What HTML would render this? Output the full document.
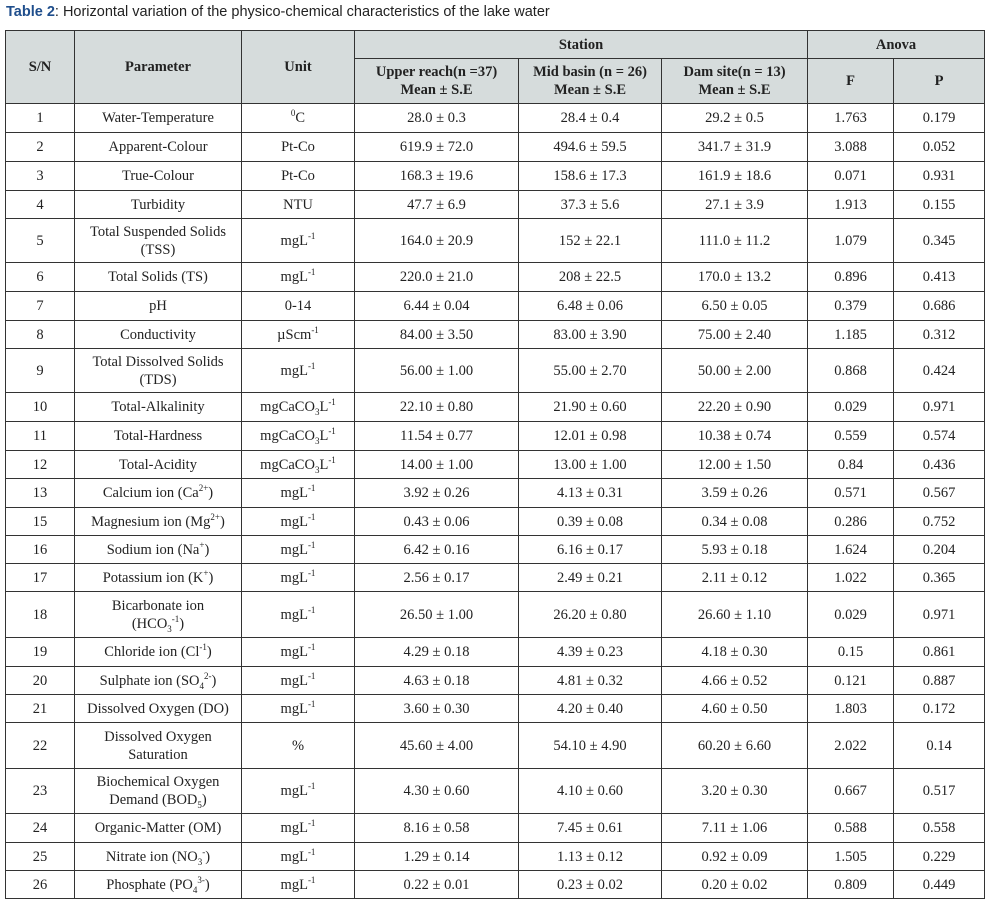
<!DOCTYPE html>
<html><head><meta charset="utf-8"><style>
body{margin:0;background:#fff;width:1000px;height:914px;overflow:hidden;position:relative}
.title{position:absolute;left:6px;top:4px;font-family:"Liberation Sans",sans-serif;font-size:14.5px;color:#222}
.title b{color:#1f4e8c}
table{position:absolute;left:5px;top:30px;border-collapse:collapse;table-layout:fixed;font-family:"Liberation Serif",serif;font-size:14.5px;color:#222}
td,th{border:1px solid #333;text-align:center;padding:0 3px;line-height:18px;overflow:hidden}
th{background:#d6dcdc;font-weight:bold}
sup,sub{font-size:9px;line-height:0}
</style></head><body>
<div class="title"><b>Table 2</b>: Horizontal variation of the physico-chemical characteristics of the lake water</div>
<table>
<colgroup><col style="width:69px"><col style="width:167px"><col style="width:113px"><col style="width:164px"><col style="width:143px"><col style="width:146px"><col style="width:86px"><col style="width:91px"></colgroup>
<tr style="height:28px"><th rowspan="2">S/N</th><th rowspan="2">Parameter</th><th rowspan="2">Unit</th><th colspan="3">Station</th><th colspan="2">Anova</th></tr>
<tr style="height:45px"><th>Upper reach(n =37)<br>Mean ± S.E</th><th>Mid basin (n = 26)<br>Mean ± S.E</th><th>Dam site(n = 13)<br>Mean ± S.E</th><th>F</th><th>P</th></tr>
<tr style="height:29px"><td>1</td><td>Water-Temperature</td><td><sup>0</sup>C</td><td>28.0 ± 0.3</td><td>28.4 ± 0.4</td><td>29.2 ± 0.5</td><td>1.763</td><td>0.179</td></tr>
<tr style="height:29px"><td>2</td><td>Apparent-Colour</td><td>Pt-Co</td><td>619.9 ± 72.0</td><td>494.6 ± 59.5</td><td>341.7 ± 31.9</td><td>3.088</td><td>0.052</td></tr>
<tr style="height:29px"><td>3</td><td>True-Colour</td><td>Pt-Co</td><td>168.3 ± 19.6</td><td>158.6 ± 17.3</td><td>161.9 ± 18.6</td><td>0.071</td><td>0.931</td></tr>
<tr style="height:28px"><td>4</td><td>Turbidity</td><td>NTU</td><td>47.7 ± 6.9</td><td>37.3 ± 5.6</td><td>27.1 ± 3.9</td><td>1.913</td><td>0.155</td></tr>
<tr style="height:44px"><td>5</td><td>Total Suspended Solids (TSS)</td><td>mgL<sup>-1</sup></td><td>164.0 ± 20.9</td><td>152 ± 22.1</td><td>111.0 ± 11.2</td><td>1.079</td><td>0.345</td></tr>
<tr style="height:29px"><td>6</td><td>Total Solids (TS)</td><td>mgL<sup>-1</sup></td><td>220.0 ± 21.0</td><td>208 ± 22.5</td><td>170.0 ± 13.2</td><td>0.896</td><td>0.413</td></tr>
<tr style="height:29px"><td>7</td><td>pH</td><td>0-14</td><td>6.44 ± 0.04</td><td>6.48 ± 0.06</td><td>6.50 ± 0.05</td><td>0.379</td><td>0.686</td></tr>
<tr style="height:28px"><td>8</td><td>Conductivity</td><td>µScm<sup>-1</sup></td><td>84.00 ± 3.50</td><td>83.00 ± 3.90</td><td>75.00 ± 2.40</td><td>1.185</td><td>0.312</td></tr>
<tr style="height:44px"><td>9</td><td>Total Dissolved Solids (TDS)</td><td>mgL<sup>-1</sup></td><td>56.00 ± 1.00</td><td>55.00 ± 2.70</td><td>50.00 ± 2.00</td><td>0.868</td><td>0.424</td></tr>
<tr style="height:29px"><td>10</td><td>Total-Alkalinity</td><td>mgCaCO<sub>3</sub>L<sup>-1</sup></td><td>22.10 ± 0.80</td><td>21.90 ± 0.60</td><td>22.20 ± 0.90</td><td>0.029</td><td>0.971</td></tr>
<tr style="height:29px"><td>11</td><td>Total-Hardness</td><td>mgCaCO<sub>3</sub>L<sup>-1</sup></td><td>11.54 ± 0.77</td><td>12.01 ± 0.98</td><td>10.38 ± 0.74</td><td>0.559</td><td>0.574</td></tr>
<tr style="height:28px"><td>12</td><td>Total-Acidity</td><td>mgCaCO<sub>3</sub>L<sup>-1</sup></td><td>14.00 ± 1.00</td><td>13.00 ± 1.00</td><td>12.00 ± 1.50</td><td>0.84</td><td>0.436</td></tr>
<tr style="height:29px"><td>13</td><td>Calcium ion (Ca<sup>2+</sup>)</td><td>mgL<sup>-1</sup></td><td>3.92 ± 0.26</td><td>4.13 ± 0.31</td><td>3.59 ± 0.26</td><td>0.571</td><td>0.567</td></tr>
<tr style="height:28px"><td>15</td><td>Magnesium ion (Mg<sup>2+</sup>)</td><td>mgL<sup>-1</sup></td><td>0.43 ± 0.06</td><td>0.39 ± 0.08</td><td>0.34 ± 0.08</td><td>0.286</td><td>0.752</td></tr>
<tr style="height:28px"><td>16</td><td>Sodium ion (Na<sup>+</sup>)</td><td>mgL<sup>-1</sup></td><td>6.42 ± 0.16</td><td>6.16 ± 0.17</td><td>5.93 ± 0.18</td><td>1.624</td><td>0.204</td></tr>
<tr style="height:28px"><td>17</td><td>Potassium ion (K<sup>+</sup>)</td><td>mgL<sup>-1</sup></td><td>2.56 ± 0.17</td><td>2.49 ± 0.21</td><td>2.11 ± 0.12</td><td>1.022</td><td>0.365</td></tr>
<tr style="height:46px"><td>18</td><td>Bicarbonate ion<br>(HCO<sub>3</sub><sup>-1</sup>)</td><td>mgL<sup>-1</sup></td><td>26.50 ± 1.00</td><td>26.20 ± 0.80</td><td>26.60 ± 1.10</td><td>0.029</td><td>0.971</td></tr>
<tr style="height:29px"><td>19</td><td>Chloride ion (Cl<sup>-1</sup>)</td><td>mgL<sup>-1</sup></td><td>4.29 ± 0.18</td><td>4.39 ± 0.23</td><td>4.18 ± 0.30</td><td>0.15</td><td>0.861</td></tr>
<tr style="height:28px"><td>20</td><td>Sulphate ion (SO<sub>4</sub><sup>2-</sup>)</td><td>mgL<sup>-1</sup></td><td>4.63 ± 0.18</td><td>4.81 ± 0.32</td><td>4.66 ± 0.52</td><td>0.121</td><td>0.887</td></tr>
<tr style="height:28px"><td>21</td><td>Dissolved Oxygen (DO)</td><td>mgL<sup>-1</sup></td><td>3.60 ± 0.30</td><td>4.20 ± 0.40</td><td>4.60 ± 0.50</td><td>1.803</td><td>0.172</td></tr>
<tr style="height:46px"><td>22</td><td>Dissolved Oxygen<br>Saturation</td><td>%</td><td>45.60 ± 4.00</td><td>54.10 ± 4.90</td><td>60.20 ± 6.60</td><td>2.022</td><td>0.14</td></tr>
<tr style="height:45px"><td>23</td><td>Biochemical Oxygen Demand (BOD<sub>5</sub>)</td><td>mgL<sup>-1</sup></td><td>4.30 ± 0.60</td><td>4.10 ± 0.60</td><td>3.20 ± 0.30</td><td>0.667</td><td>0.517</td></tr>
<tr style="height:29px"><td>24</td><td>Organic-Matter (OM)</td><td>mgL<sup>-1</sup></td><td>8.16 ± 0.58</td><td>7.45 ± 0.61</td><td>7.11 ± 1.06</td><td>0.588</td><td>0.558</td></tr>
<tr style="height:28px"><td>25</td><td>Nitrate ion (NO<sub>3</sub><sup>-</sup>)</td><td>mgL<sup>-1</sup></td><td>1.29 ± 0.14</td><td>1.13 ± 0.12</td><td>0.92 ± 0.09</td><td>1.505</td><td>0.229</td></tr>
<tr style="height:28px"><td>26</td><td>Phosphate (PO<sub>4</sub><sup>3-</sup>)</td><td>mgL<sup>-1</sup></td><td>0.22 ± 0.01</td><td>0.23 ± 0.02</td><td>0.20 ± 0.02</td><td>0.809</td><td>0.449</td></tr>
</table>
</body></html>
